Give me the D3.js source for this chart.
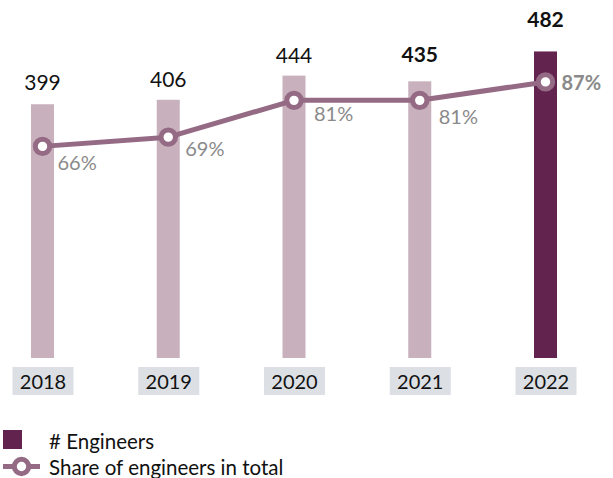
<!DOCTYPE html>
<html>
<head>
<meta charset="utf-8">
<script src="https://cdn.jsdelivr.net/npm/d3@7"></script>
<style>
  html, body { margin: 0; padding: 0; background: #fff; }
  svg { display: block; }
  text { font-family: "Lato", sans-serif; }
</style>
</head>
<body>
<svg id="chart" width="613" height="478"></svg>
<script>
// Engineers headcount and their share of the total workforce, per year
const years = ["2018", "2019", "2020", "2021", "2022"];
const engineers = [399, 406, 444, 435, 482];
const sharePct = [66, 69, 81, 81, 87];
const highlighted = [false, false, false, true, true];
const legendLabels = ["# Engineers", "Share of engineers in total"];

// Layout constants
const barW = 23;
const baseY = 358;
const countLift = [14, 13, 13, 19, 24];          // label gap above each bar
const shareOffset = [[15, 24], [17, 19], [20, 21], [19, 24], [16, 8]];

const colors = {
  barLight: "#c8b1bd",
  barDark: "#62234f",
  line: "#946a84",
  axisBox: "#dcdfe3",
  pct: "#8a8a8a",
  text: "#111111"
};

const svg = d3.select("#chart");

const x = d3.scalePoint().domain(years).range([42.5, 545.5]);
const yCount = d3.scaleLinear().domain([0, 500]).range([baseY, 40]);
const yShare = d3.scaleLinear().domain([0, 100]).range([349, 42]);

// Bars
svg.append("g").selectAll("rect")
  .data(years)
  .join("rect")
  .attr("x", d => x(d) - barW / 2)
  .attr("y", (d, i) => yCount(engineers[i]))
  .attr("width", barW)
  .attr("height", (d, i) => baseY - yCount(engineers[i]))
  .attr("fill", (d, i) => i === years.length - 1 ? colors.barDark : colors.barLight);

// Count labels
svg.append("g").selectAll("text")
  .data(years)
  .join("text")
  .attr("x", d => x(d))
  .attr("y", (d, i) => yCount(engineers[i]) - countLift[i])
  .attr("text-anchor", "middle")
  .attr("font-size", 21)
  .attr("font-weight", (d, i) => highlighted[i] ? 700 : 400)
  .attr("fill", colors.text)
  .text((d, i) => engineers[i]);

// Year axis labels on grey tiles
const axis = svg.append("g").attr("transform", `translate(0,${baseY})`)
  .call(d3.axisBottom(x).tickSize(0).tickPadding(0));
axis.select(".domain").remove();
axis.selectAll(".tick").each(function () {
  const t = d3.select(this);
  t.insert("rect", "text")
    .attr("x", -30.5).attr("y", 9).attr("width", 61).attr("height", 28)
    .attr("fill", colors.axisBox);
  t.select("text")
    .attr("y", 31).attr("dy", null)
    .attr("font-size", 20)
    .attr("font-family", "Lato, sans-serif")
    .attr("font-weight", 400)
    .attr("fill", colors.text);
});

// Share line
const line = d3.line().x(d => x(d)).y((d, i) => yShare(sharePct[i]));
svg.append("path")
  .datum(years)
  .attr("d", line)
  .attr("fill", "none")
  .attr("stroke", colors.line)
  .attr("stroke-width", 5)
  .attr("stroke-linejoin", "round");

svg.append("g").selectAll("circle")
  .data(years)
  .join("circle")
  .attr("cx", d => x(d))
  .attr("cy", (d, i) => yShare(sharePct[i]))
  .attr("r", 7.2)
  .attr("fill", "#fff")
  .attr("stroke", colors.line)
  .attr("stroke-width", 5);

// Share labels
svg.append("g").selectAll("text")
  .data(years)
  .join("text")
  .attr("x", (d, i) => x(d) + shareOffset[i][0])
  .attr("y", (d, i) => yShare(sharePct[i]) + shareOffset[i][1])
  .attr("font-size", 20)
  .attr("font-weight", (d, i) => i === years.length - 1 ? 700 : 400)
  .attr("fill", colors.pct)
  .text((d, i) => sharePct[i] + "%");

// Legend
const legend = svg.append("g");
legend.append("rect")
  .attr("x", 3).attr("y", 430).attr("width", 19).attr("height", 19)
  .attr("fill", colors.barDark);
legend.append("text")
  .attr("x", 49).attr("y", 449)
  .attr("font-size", 20.5).attr("fill", colors.text)
  .text(legendLabels[0]);
legend.append("line")
  .attr("x1", 3).attr("x2", 40).attr("y1", 466.5).attr("y2", 466.5)
  .attr("stroke", colors.line).attr("stroke-width", 5);
legend.append("circle")
  .attr("cx", 21.5).attr("cy", 466.5).attr("r", 7.2)
  .attr("fill", "#fff").attr("stroke", colors.line).attr("stroke-width", 5);
legend.append("text")
  .attr("x", 49).attr("y", 475)
  .attr("font-size", 20.5).attr("fill", colors.text)
  .text(legendLabels[1]);
</script>
</body>
</html>
